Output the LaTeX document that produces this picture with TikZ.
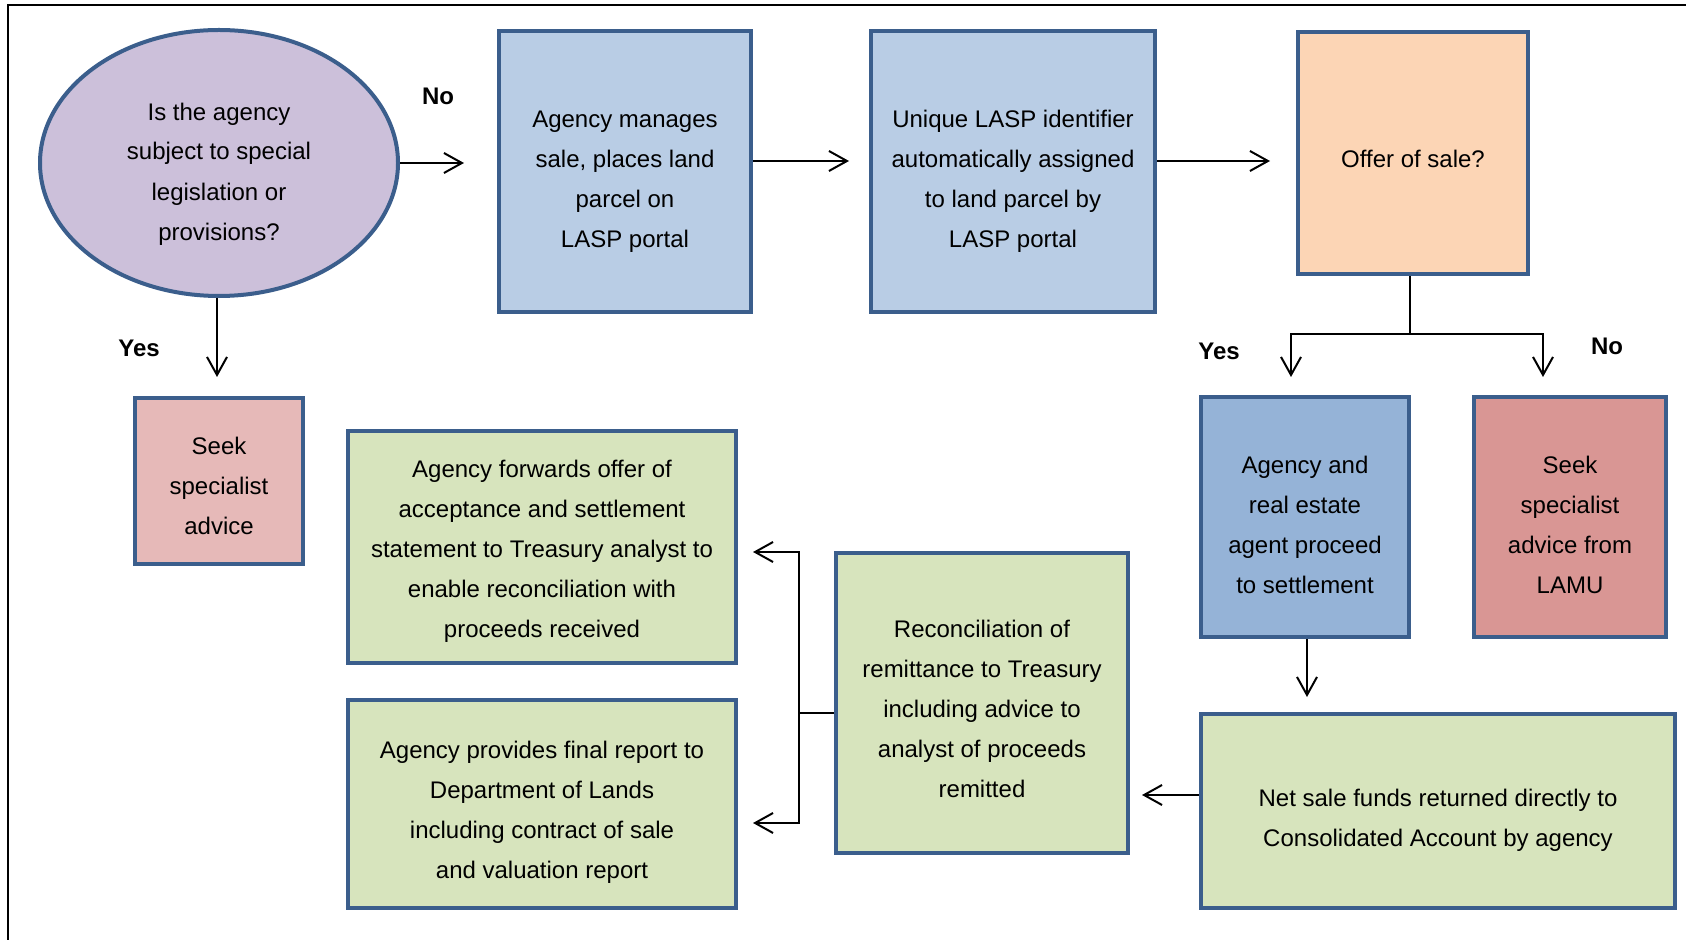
\documentclass[tikz,border=0pt]{standalone}
\usepackage{fontspec}
\setmainfont{Liberation Sans}
\usetikzlibrary{shapes.geometric,arrows.meta}
\definecolor{bd}{HTML}{3B5E8C}
\definecolor{lav}{HTML}{CCC0DA}
\definecolor{lblue}{HTML}{B9CDE5}
\definecolor{peach}{HTML}{FCD5B5}
\definecolor{pink}{HTML}{E6B9B8}
\definecolor{lgreen}{HTML}{D7E4BD}
\definecolor{mblue}{HTML}{95B3D7}
\definecolor{rose}{HTML}{D99694}
\tikzset{
  boxnode/.style={draw=bd, line width=2pt, rectangle, inner sep=0pt},
  ellnode/.style={draw=bd, line width=2pt, ellipse, inner sep=0pt},
  lbltext/.style={align=center, inner sep=0pt, font=\fontsize{12}{20}\selectfont},
  txt/.style n args={2}{label={[lbltext, yshift=-#1]center:{#2}}},
  arr/.style={line width=1pt, -{Straight Barb[length=9pt,width=10pt]}},
  ln/.style={line width=1pt},
  lbl/.style={font=\fontsize{12}{14}\selectfont\bfseries, inner sep=0pt},
  frameline/.style={line width=0.6pt}
}
\begin{document}
\begin{tikzpicture}[x=0.5pt,y=-0.5pt]
\useasboundingbox (0,0) rectangle (1686,940);
\draw[frameline] (8,940) -- (8,5) -- (1686,5);

\node[ellnode, fill=lav, minimum width=179pt, minimum height=133pt,
  txt={5.4pt}{Is the agency\\subject to special\\legislation or\\provisions?}] (q) at (219,163) {};
\node[boxnode, fill=lblue, minimum width=126pt, minimum height=140.5pt,
  txt={4.8pt}{Agency manages\\sale, places land\\parcel on\\LASP portal}] (b1) at (625,172) {};
\node[boxnode, fill=lblue, minimum width=142pt, minimum height=140.5pt,
  txt={4.6pt}{Unique LASP identifier\\automatically assigned\\to land parcel by\\LASP portal}] (b2) at (1013,172) {};
\node[boxnode, fill=peach, minimum width=115pt, minimum height=121pt,
  txt={3.2pt}{Offer of sale?}] (offer) at (1413,153) {};
\node[boxnode, fill=pink, minimum width=84pt, minimum height=83pt,
  txt={2.7pt}{Seek\\specialist\\advice}] (seek1) at (219,481) {};
\node[boxnode, fill=lgreen, minimum width=194pt, minimum height=116pt,
  txt={2.1pt}{Agency forwards offer of\\acceptance and settlement\\statement to Treasury analyst to\\enable reconciliation with\\proceeds received}] (fwd) at (542,547) {};
\node[boxnode, fill=lgreen, minimum width=194pt, minimum height=104pt,
  txt={4.3pt}{Agency provides final report to\\Department of Lands\\including contract of sale\\and valuation report}] (prov) at (542,804) {};
\node[boxnode, fill=lgreen, minimum width=146pt, minimum height=150pt,
  txt={3.2pt}{Reconciliation of\\remittance to Treasury\\including advice to\\analyst of proceeds\\remitted}] (rec) at (982,703) {};
\node[boxnode, fill=mblue, minimum width=104pt, minimum height=120pt,
  txt={3.8pt}{Agency and\\real estate\\agent proceed\\to settlement}] (agt) at (1305,517) {};
\node[boxnode, fill=rose, minimum width=96pt, minimum height=120pt,
  txt={3.8pt}{Seek\\specialist\\advice from\\LAMU}] (lamu) at (1570,517) {};
\node[boxnode, fill=lgreen, minimum width=237pt, minimum height=97pt,
  txt={4.8pt}{Net sale funds returned directly to\\Consolidated Account by agency}] (net) at (1438,811) {};

\node[lbl] (lno1) at (438,96) {No};
\node[lbl] (lyes1) at (139,348) {Yes};
\node[lbl] (lyes2) at (1219,351) {Yes};
\node[lbl] (lno2) at (1607,346) {No};

\coordinate (t1) at (464,163);
\coordinate (t2) at (849,161);
\coordinate (t3) at (1270,161);
\coordinate (t4) at (217,377);
\coordinate (split) at (1410,334);
\coordinate (ty) at (1291,377);
\coordinate (tn) at (1543,377);
\coordinate (tnet) at (1307,697);
\coordinate (trec) at (1142,795);
\coordinate (br) at (799,713);
\coordinate (tf) at (753,552);
\coordinate (tp) at (753,823);

\draw[arr] (q.east) -- (t1);
\draw[arr] (b1.east |- t2) -- (t2);
\draw[arr] (b2.east |- t3) -- (t3);
\draw[arr] (q.south -| t4) -- (t4);
\draw[ln] (offer.south -| split) -- (split);
\draw[arr] (split) -| (ty);
\draw[arr] (split) -| (tn);
\draw[arr] (agt.south -| tnet) -- (tnet);
\draw[arr] (net.west |- trec) -- (trec);
\draw[ln] (rec.west |- br) -- (br);
\draw[arr] (br) |- (tf);
\draw[arr] (br) |- (tp);
\end{tikzpicture}
\end{document}
